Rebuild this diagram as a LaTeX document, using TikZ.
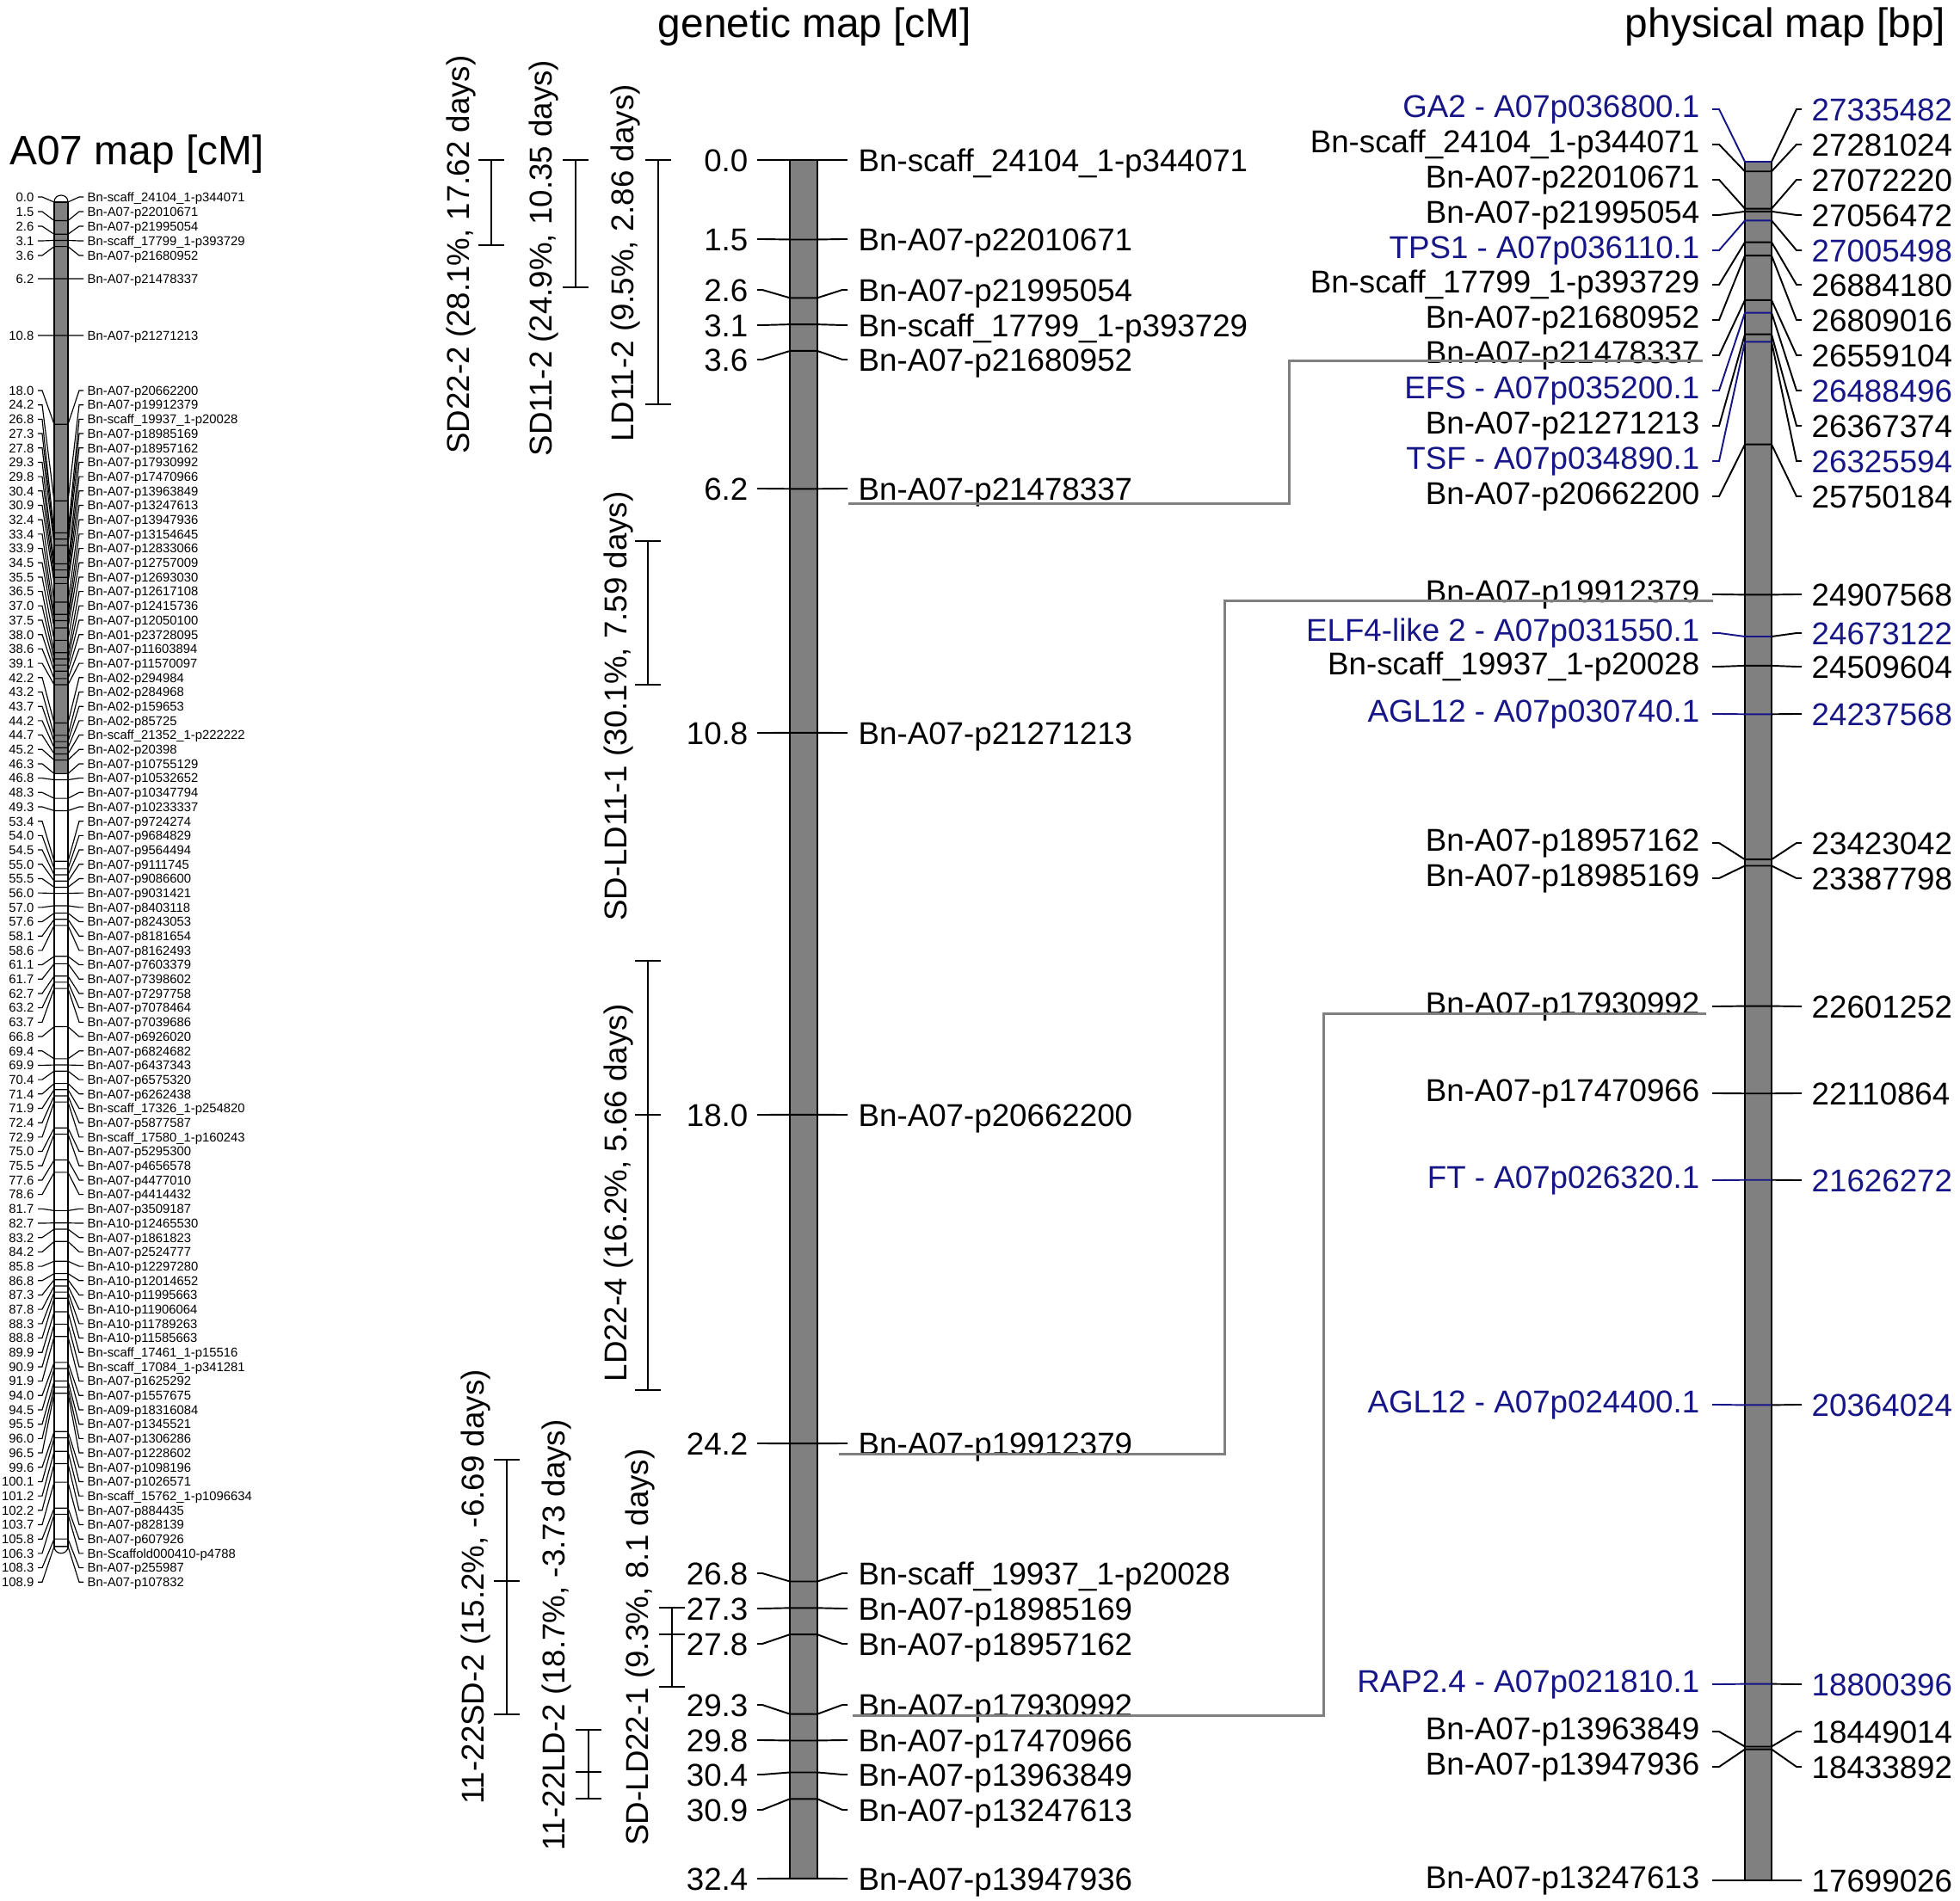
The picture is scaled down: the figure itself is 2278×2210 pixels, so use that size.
\documentclass[tikz,border=0pt]{standalone}
\usepackage{fontspec}
\setmainfont{Liberation Sans}
\usepackage{xfp}
\usetikzlibrary{calc}
\definecolor{genblue}{RGB}{22,22,135}
\definecolor{bargray}{RGB}{128,128,128}

\tikzset{
  lab/.style = {inner sep=0pt, text height=7.47pt, text depth=0pt, font=\fontsize{10.44}{12}\selectfont},
  smalllab/.style = {inner sep=0pt, text height=3.02pt, text depth=0pt, font=\fontsize{4.22}{5}\selectfont},
  title/.style = {inner sep=0pt, text height=9.74pt, text depth=0pt, font=\fontsize{13.6}{16}\selectfont},
  qtl/.style = {lab, rotate=90},
  tick/.style = {line width=0.55pt},
  thintick/.style = {line width=0.33pt},
  link/.style = {draw=bargray, line width=0.85pt},
  chrom/.style = {fill=bargray, draw=black, line width=0.8pt},
  bracket/.style = {line width=0.55pt}
}
% QTL interval: x, top, bottom
\newcommand{\qtlspan}[3]{\draw[bracket] (#1,#2) -- (#1,#3) (#1-15,#2) -- (#1+15,#2) (#1-15,#3) -- (#1+15,#3);}
\newcommand{\qtlpeak}[2]{\draw[bracket] (#1-15,#2) -- (#1+15,#2);}

\begin{document}
\begin{tikzpicture}[x=0.01cm, y=-0.01cm]
  \useasboundingbox (0,0) rectangle (2278,2210);

  % titles
  \node[title] (ttlA) at (159,174) {A07 map [cM]};
  \node[title] (ttlG) at (947,26) {genetic map [cM]};
  \node[title] (ttlP) at (2075,26) {physical map [bp]};

  % ---- whole linkage group (left)
  \filldraw[fill=white, line width=0.33pt] (63,235) .. controls (63,224.3) and (79,224.3) .. (79,235) -- cycle;
  \filldraw[fill=bargray, line width=0.33pt] (63,235) rectangle (79,899.4);
  \filldraw[fill=white, line width=0.33pt] (63,899.4) rectangle (79,1797.7);
  \filldraw[fill=white, line width=0.33pt] (63,1797.7) .. controls (63,1808.4) and (79,1808.4) .. (79,1797.7) -- cycle;

  \foreach \cm/\ly/\lab [count=\k from 0] in {
    0.0/229/{Bn-scaff\_24104\_1-p344071},
    1.5/246/{Bn-A07-p22010671},
    2.6/263/{Bn-A07-p21995054},
    3.1/280/{Bn-scaff\_17799\_1-p393729},
    3.6/297/{Bn-A07-p21680952},
    6.2/324/{Bn-A07-p21478337},
    10.8/390/{Bn-A07-p21271213}}
  {
    \pgfmathsetmacro\ya{235+14.35*\cm}
    \node[smalllab, anchor=east] (sn\k) at (40,\ly) {\cm};
    \node[smalllab, anchor=west] (sl\k) at (101,\ly) {\lab};
    \draw[thintick] ($(sn\k.east)+(4,0)$) -- ++(5,0) -- (63,\ya) -- (79,\ya) -- ($(sl\k.west)+(-9,0)$) -- ++(5,0);
  }

  \foreach \cm/\lab [count=\k from 7] in {
    18.0/{Bn-A07-p20662200}, 24.2/{Bn-A07-p19912379}, 26.8/{Bn-scaff\_19937\_1-p20028},
    27.3/{Bn-A07-p18985169}, 27.8/{Bn-A07-p18957162}, 29.3/{Bn-A07-p17930992},
    29.8/{Bn-A07-p17470966}, 30.4/{Bn-A07-p13963849}, 30.9/{Bn-A07-p13247613},
    32.4/{Bn-A07-p13947936}, 33.4/{Bn-A07-p13154645}, 33.9/{Bn-A07-p12833066},
    34.5/{Bn-A07-p12757009}, 35.5/{Bn-A07-p12693030}, 36.5/{Bn-A07-p12617108},
    37.0/{Bn-A07-p12415736}, 37.5/{Bn-A07-p12050100}, 38.0/{Bn-A01-p23728095},
    38.6/{Bn-A07-p11603894}, 39.1/{Bn-A07-p11570097}, 42.2/{Bn-A02-p294984},
    43.2/{Bn-A02-p284968}, 43.7/{Bn-A02-p159653}, 44.2/{Bn-A02-p85725},
    44.7/{Bn-scaff\_21352\_1-p222222}, 45.2/{Bn-A02-p20398}, 46.3/{Bn-A07-p10755129},
    46.8/{Bn-A07-p10532652}, 48.3/{Bn-A07-p10347794}, 49.3/{Bn-A07-p10233337},
    53.4/{Bn-A07-p9724274}, 54.0/{Bn-A07-p9684829}, 54.5/{Bn-A07-p9564494},
    55.0/{Bn-A07-p9111745}, 55.5/{Bn-A07-p9086600}, 56.0/{Bn-A07-p9031421},
    57.0/{Bn-A07-p8403118}, 57.6/{Bn-A07-p8243053}, 58.1/{Bn-A07-p8181654},
    58.6/{Bn-A07-p8162493}, 61.1/{Bn-A07-p7603379}, 61.7/{Bn-A07-p7398602},
    62.7/{Bn-A07-p7297758}, 63.2/{Bn-A07-p7078464}, 63.7/{Bn-A07-p7039686},
    66.8/{Bn-A07-p6926020}, 69.4/{Bn-A07-p6824682}, 69.9/{Bn-A07-p6437343},
    70.4/{Bn-A07-p6575320}, 71.4/{Bn-A07-p6262438}, 71.9/{Bn-scaff\_17326\_1-p254820},
    72.4/{Bn-A07-p5877587}, 72.9/{Bn-scaff\_17580\_1-p160243}, 75.0/{Bn-A07-p5295300},
    75.5/{Bn-A07-p4656578}, 77.6/{Bn-A07-p4477010}, 78.6/{Bn-A07-p4414432},
    81.7/{Bn-A07-p3509187}, 82.7/{Bn-A10-p12465530}, 83.2/{Bn-A07-p1861823},
    84.2/{Bn-A07-p2524777}, 85.8/{Bn-A10-p12297280}, 86.8/{Bn-A10-p12014652},
    87.3/{Bn-A10-p11995663}, 87.8/{Bn-A10-p11906064}, 88.3/{Bn-A10-p11789263},
    88.8/{Bn-A10-p11585663}, 89.9/{Bn-scaff\_17461\_1-p15516}, 90.9/{Bn-scaff\_17084\_1-p341281},
    91.9/{Bn-A07-p1625292}, 94.0/{Bn-A07-p1557675}, 94.5/{Bn-A09-p18316084},
    95.5/{Bn-A07-p1345521}, 96.0/{Bn-A07-p1306286}, 96.5/{Bn-A07-p1228602},
    99.6/{Bn-A07-p1098196}, 100.1/{Bn-A07-p1026571}, 101.2/{Bn-scaff\_15762\_1-p1096634},
    102.2/{Bn-A07-p884435}, 103.7/{Bn-A07-p828139}, 105.8/{Bn-A07-p607926},
    106.3/{Bn-Scaffold000410-p4788}, 108.3/{Bn-A07-p255987}, 108.9/{Bn-A07-p107832}}
  {
    \pgfmathsetmacro\ya{235+14.35*\cm}
    \pgfmathsetmacro\ly{454+16.69*(\k-7)}
    \node[smalllab, anchor=east] (sn\k) at (40,\ly) {\cm};
    \node[smalllab, anchor=west] (sl\k) at (101,\ly) {\lab};
    \draw[thintick] ($(sn\k.east)+(4,0)$) -- ++(5,0) -- (63,\ya) -- (79,\ya) -- ($(sl\k.west)+(-9,0)$) -- ++(5,0);
  }

  % ---- genetic map
  \filldraw[chrom] (918,186) rectangle (950,2184);
  \foreach \cm/\ly/\lab [count=\i from 0] in {
    0.0/186/{Bn-scaff\_24104\_1-p344071},
    1.5/278/{Bn-A07-p22010671},
    2.6/337/{Bn-A07-p21995054},
    3.1/378/{Bn-scaff\_17799\_1-p393729},
    3.6/418/{Bn-A07-p21680952},
    6.2/568/{Bn-A07-p21478337},
    10.8/852/{Bn-A07-p21271213},
    18.0/1296/{Bn-A07-p20662200},
    24.2/1678/{Bn-A07-p19912379},
    26.8/1829/{Bn-scaff\_19937\_1-p20028},
    27.3/1870/{Bn-A07-p18985169},
    27.8/1911/{Bn-A07-p18957162},
    29.3/1982/{Bn-A07-p17930992},
    29.8/2023/{Bn-A07-p17470966},
    30.4/2063/{Bn-A07-p13963849},
    30.9/2104/{Bn-A07-p13247613},
    32.4/2184/{Bn-A07-p13947936}}
  {
    \pgfmathsetmacro\ya{186+61.66*\cm}
    \node[lab, anchor=east] (gn\i) at (870,\ly) {\cm};
    \node[lab, anchor=west] (gm\i) at (997,\ly) {\lab};
    \draw[tick] ($(gn\i.east)+(10,0)$) -- ++(6,0) -- (918,\ya) -- (950,\ya) -- ($(gm\i.west)+(-18,0)$) -- ++(6,0);
  }

  % QTL intervals
  \qtlspan{571}{186}{285}
  \qtlspan{669}{186}{334}
  \qtlspan{765}{186}{470}
  \qtlspan{753}{629}{796}
  \qtlspan{753}{1117}{1616} \qtlpeak{753}{1296}
  \qtlspan{589}{1697}{1993} \qtlpeak{589}{1838}
  \qtlspan{684}{2011}{2091} \qtlpeak{684}{2060}
  \qtlspan{781}{1869}{1961} \qtlpeak{781}{1900}
  \node[qtl] (q1) at (532,296) {SD22-2 (28.1\%, 17.62 days)};
  \node[qtl] (q2) at (628,300) {SD11-2 (24.9\%, 10.35 days)};
  \node[qtl] (q3) at (723,306) {LD11-2 (9.5\%, 2.86 days)};
  \node[qtl] (q4) at (715,821) {SD-LD11-1 (30.1\%, 7.59 days)};
  \node[qtl] (q5) at (715,1387) {LD22-4 (16.2\%, 5.66 days)};
  \node[qtl] (q6) at (549,1845) {11-22SD-2 (15.2\%, -6.69 days)};
  \node[qtl] (q7) at (643,1901) {11-22LD-2 (18.7\%, -3.73 days)};
  \node[qtl] (q8) at (740,1915) {SD-LD22-1 (9.3\%, 8.1 days)};

  % ---- physical map
  \filldraw[chrom] (2028,188) rectangle (2059,2186);
  \foreach \bp/\cy/\lab/\col [count=\i from 0] in {
    27335482/127/{GA2 - A07p036800.1}/genblue,
    27281024/168/{Bn-scaff\_24104\_1-p344071}/black,
    27072220/209/{Bn-A07-p22010671}/black,
    27056472/250/{Bn-A07-p21995054}/black,
    27005498/291/{TPS1 - A07p036110.1}/genblue,
    26884180/331/{Bn-scaff\_17799\_1-p393729}/black,
    26809016/372/{Bn-A07-p21680952}/black,
    26559104/413/{Bn-A07-p21478337}/black,
    26488496/454/{EFS - A07p035200.1}/genblue,
    26367374/495/{Bn-A07-p21271213}/black,
    26325594/536/{TSF - A07p034890.1}/genblue,
    25750184/577/{Bn-A07-p20662200}/black,
    24907568/691/{Bn-A07-p19912379}/black,
    24673122/736/{ELF4-like 2 - A07p031550.1}/genblue,
    24509604/775/{Bn-scaff\_19937\_1-p20028}/black,
    24237568/830/{AGL12 - A07p030740.1}/genblue,
    23423042/980/{Bn-A07-p18957162}/black,
    23387798/1021/{Bn-A07-p18985169}/black,
    22601252/1170/{Bn-A07-p17930992}/black,
    22110864/1271/{Bn-A07-p17470966}/black,
    21626272/1372/{FT - A07p026320.1}/genblue,
    20364024/1633/{AGL12 - A07p024400.1}/genblue,
    18800396/1958/{RAP2.4 - A07p021810.1}/genblue,
    18449014/2013/{Bn-A07-p13963849}/black,
    18433892/2054/{Bn-A07-p13947936}/black,
    17699026/2186/{Bn-A07-p13247613}/black}
  {
    \edef\ya{\fpeval{188+(27335482-\bp)*0.000207337}}
    \node[lab, anchor=east, text=\col] (pl\i) at (1976,\cy-4) {\lab};
    \node[lab, anchor=west, text=\col] (pr\i) at (2105,\cy) {\bp};
    \draw[tick, color=\col] ($(pl\i.east)+(14,4)$) -- ++(8,0) -- (2028,\ya) -- (2059,\ya);
    \draw[tick] (2059,\ya) -- ($(pr\i.west)+(-17,0)$) -- ++(6,0);
  }

  % ---- links genetic -> physical
  \coordinate (k1) at (1498,0);
  \coordinate (k2) at (1423,0);
  \coordinate (k3) at (1538,0);
  \coordinate (a1) at ($(gm5.south west)+(-11,4)$);
  \coordinate (b1) at ($(pl7.south east)+(3,-3)$);
  \coordinate (a2) at ($(gm8.south west)+(-22,-1)$);
  \coordinate (b2) at ($(pl12.south east)+(15,-2)$);
  \coordinate (a3) at ($(gm12.south west)+(-6,-1)$);
  \coordinate (b3) at ($(pl18.south east)+(7,-1)$);
  \draw[link] (a1) -| (k1 |- b1) -- (b1);
  \draw[link] (a2) -| (k2 |- b2) -- (b2);
  \draw[link] (a3) -| (k3 |- b3) -- (b3);
\end{tikzpicture}
\end{document}
